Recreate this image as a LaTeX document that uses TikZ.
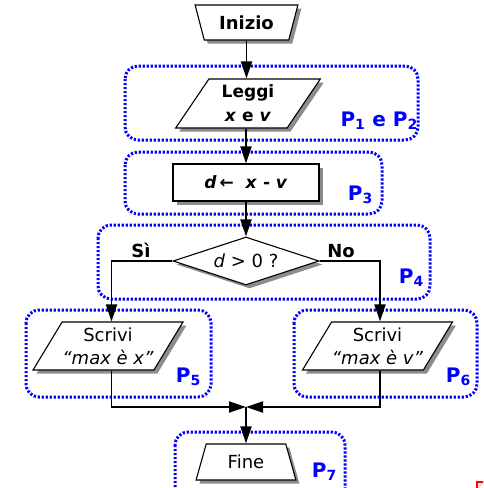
\documentclass[tikz,border=0pt]{standalone}
\usepackage{fontspec}
\setmainfont{DejaVu Sans}
\usetikzlibrary{shapes.geometric,arrows.meta,shadows}
\begin{document}
\begin{tikzpicture}[x=1pt,y=-1pt,
  every node/.style={font=\fontsize{18}{22}\selectfont},
  castshadow/.style={drop shadow={shadow xshift=3.5pt,shadow yshift=-3.5pt,opacity=1,fill=black!45}},
  fcshape/.style={draw=black,line width=1.1pt,fill=white,inner sep=0pt,castshadow},
  fcterm/.style={fcshape,trapezium,trapezium stretches},
  fcio/.style={fcshape,trapezium,trapezium stretches,align=center},
  fcproc/.style={fcshape,rectangle},
  fctest/.style={fcshape,diamond,shape aspect=3},
  fcflow/.style={line width=1.9pt,-{Triangle[length=17pt,width=11pt]}},
  fcgroup/.style={draw={rgb,255:red,0;green,0;blue,255},line width=3pt,
    dash pattern=on 2.2pt off 1.8pt,rounded corners=13pt},
  fclabel/.style={text={rgb,255:red,0;green,0;blue,255},
    font=\fontsize{20}{22}\selectfont\bfseries,anchor=base east,inner sep=0pt},
  fcbranch/.style={font=\fontsize{18}{22}\selectfont\bfseries,anchor=base,inner sep=0pt},
]
\useasboundingbox (0,0) rectangle (483,488);
\clip (0,0) rectangle (483,488);

% dotted groups of steps
\draw[fcgroup] (125,66) rectangle (418,140);
\draw[fcgroup] (125,152) rectangle (382,214);
\draw[fcgroup] (98,225) rectangle (430,299);
\draw[fcgroup] (26,310) rectangle (211,397);
\draw[fcgroup] (294,310) rectangle (477,397);
\draw[fcgroup] (175,432) rectangle (345,510);

% flowchart blocks
\node[fcterm,trapezium left angle=113,trapezium right angle=113,
  minimum width=103pt,minimum height=35pt,font=\fontsize{18}{22}\selectfont\bfseries]
  (inizio) at (246.5,22.5) {Inizio};
\node[fcio,trapezium left angle=59,trapezium right angle=121,
  minimum width=146pt,minimum height=49pt,font=\fontsize{17}{24}\selectfont\bfseries]
  (leggi) at (248,103.5) {Leggi\\\textit{x} e \textit{v}};
\node[fcproc,minimum width=146pt,minimum height=37pt,font=\fontsize{17}{21}\selectfont\bfseries]
  (calc) at (246,182.5) {\textit{d}\,←\ \ \textit{x} - \textit{v}};
\node[fctest,minimum width=146pt,minimum height=48pt]
  (test) at (246,261) {\textit{d} > 0 ?};
\node[fcio,trapezium left angle=52,trapezium right angle=128,
  minimum width=150pt,minimum height=48pt,font=\fontsize{18}{23}\selectfont]
  (outx) at (108,346) {Scrivi\\\textit{“max è x”}};
\node[fcio,trapezium left angle=52,trapezium right angle=128,
  minimum width=150pt,minimum height=48pt,font=\fontsize{18}{23}\selectfont]
  (outv) at (377.5,346) {Scrivi\\\textit{“max è v”}};
\node[fcterm,trapezium left angle=71.6,trapezium right angle=71.6,
  minimum width=100pt,minimum height=36pt]
  (fine) at (246,462) {Fine};
\coordinate (join) at (246,407);

% branch labels
\node[fcbranch] (si) at (141,257) {Sì};
\node[fcbranch] (no) at (341,257) {No};

% group labels
\node[fclabel] (p12) at (418,126) {P\textsubscript{1} e P\textsubscript{2}};
\node[fclabel] (p3) at (373,200) {P\textsubscript{3}};
\node[fclabel] (p4) at (424,283) {P\textsubscript{4}};
\node[fclabel] (p5) at (201,382) {P\textsubscript{5}};
\node[fclabel] (p6) at (471,382) {P\textsubscript{6}};
\node[fclabel] (p7) at (337,477) {P\textsubscript{7}};

% connectors
\draw[fcflow] (inizio.south) -- (inizio.south |- leggi.north);
\draw[fcflow] (leggi.south -| calc.north) -- (calc.north);
\draw[fcflow] (calc.south) -- (test.north);
\draw[fcflow] (test.west) -| ([xshift=3.5pt]outx.north);
\draw[fcflow] (test.east) -| ([xshift=2.5pt]outv.north);
\draw[fcflow] ([xshift=3.5pt]outx.south) |- (join);
\draw[fcflow] ([xshift=2.5pt]outv.south) |- (join);
\draw[fcflow] (join) -- (fine.north);

% corner mark
\draw[red,line width=2pt,fill=red!15] (477,490) |- (485,482);
\end{tikzpicture}
\end{document}
